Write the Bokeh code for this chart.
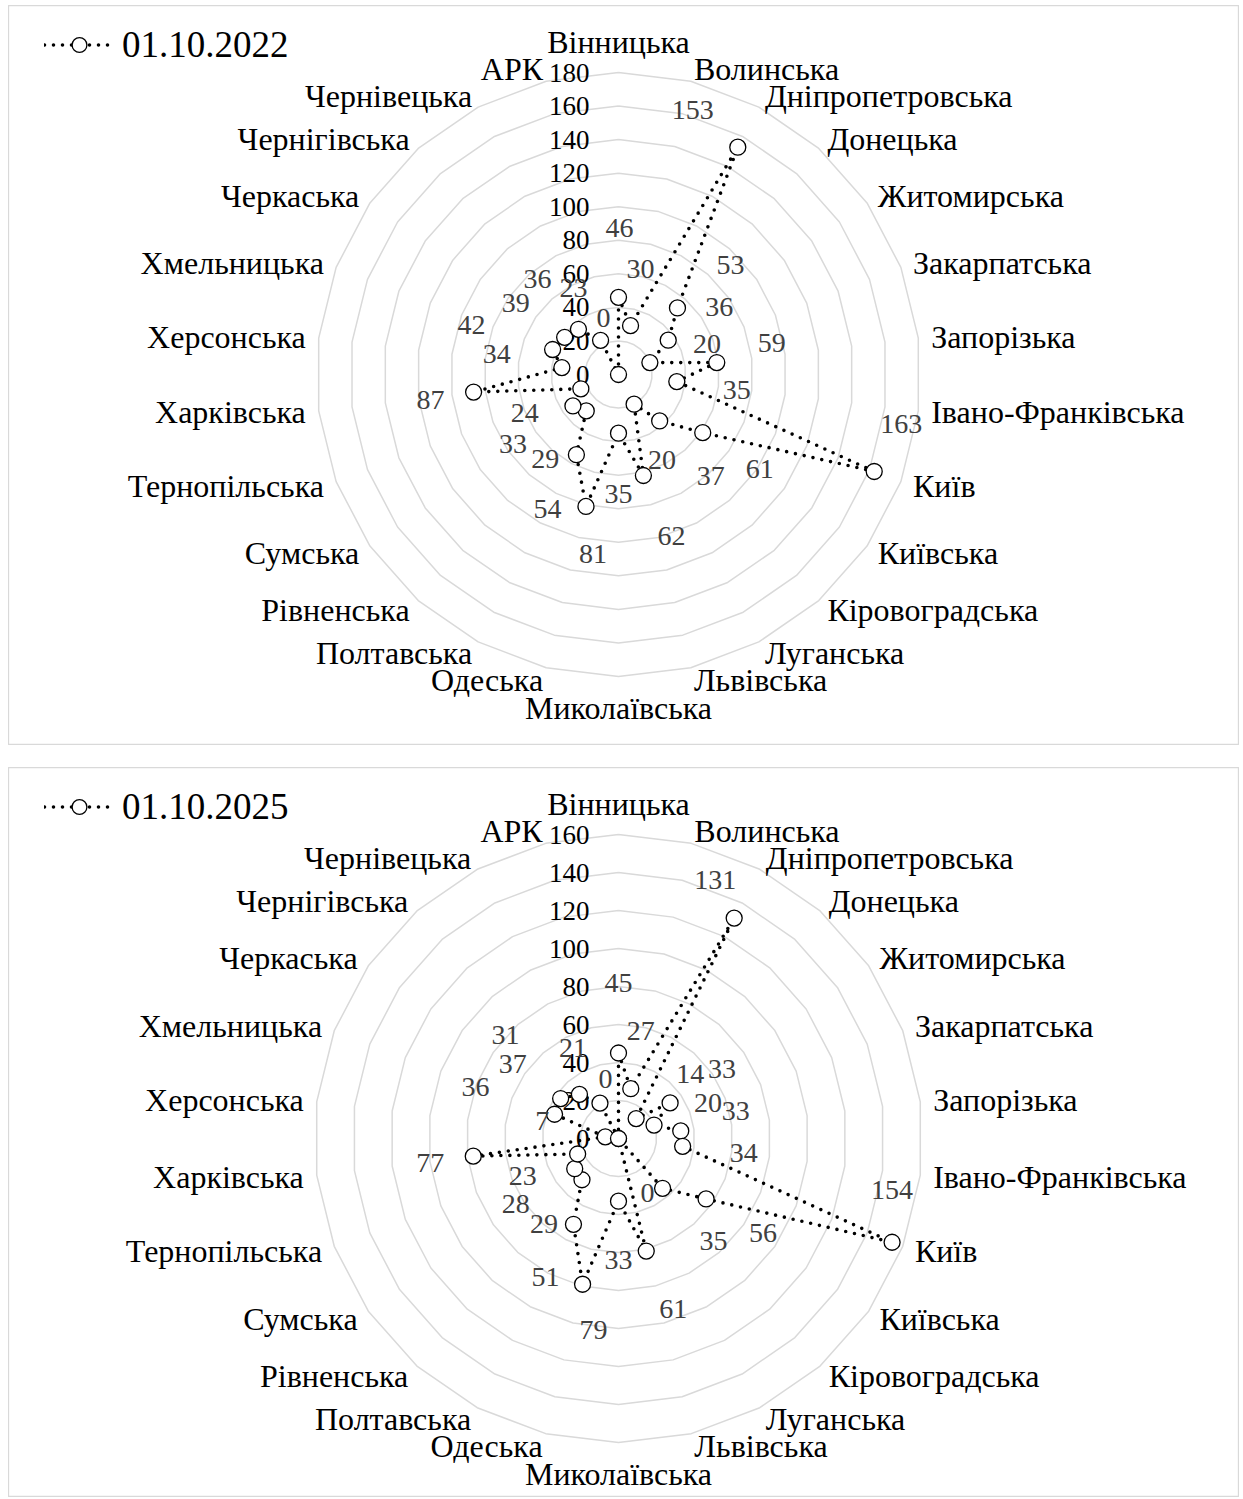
import numpy as np
from bokeh.plotting import figure
from bokeh.models import ColumnDataSource, Legend, LegendItem
from bokeh.layouts import column
from bokeh.embed import file_html
from bokeh.resources import INLINE
from bokeh.core.properties import value

# ---------------- data ----------------
categories = ["Вінницька", "Волинська", "Дніпропетровська", "Донецька", "Житомирська",
              "Закарпатська", "Запорізька", "Івано-Франківська", "Київ", "Київська",
              "Кіровоградська", "Луганська", "Львівська", "Миколаївська", "Одеська",
              "Полтавська", "Рівненська", "Сумська", "Тернопільська", "Харківська",
              "Херсонська", "Хмельницька", "Черкаська", "Чернігівська", "Чернівецька", "АРК"]

values_2022 = [46, 30, 153, 53, 36, 20, 59, 35, 163, 61, 37, 20, 62, 35, 81, 54, 29, 33, 24, 87,
               34, 42, 39, 36, 23, 0]
values_2025 = [45, 27, 131, 14, 33, 20, 33, 34, 154, 56, 35, 0, 61, 33, 79, 51, 29, 28, 23, 77,
               7, 36, 37, 31, 21, 0]

ticks_2022 = [0, 20, 40, 60, 80, 100, 120, 140, 160, 180]
ticks_2025 = [0, 20, 40, 60, 80, 100, 120, 140, 160]

series_2022 = "01.10.2022"
series_2025 = "01.10.2025"

# data-label pixel offsets (screen px, relative to each point)
lab_dx_2022 = [1, 10, -45, 53, 51, 57, 55, 60, 27, 57, 51, 28, 28, 0, 7, -29, -41, -60, -56, -43,
               -65, -81, -49, -41, -27, -15]
lab_dy_2022 = [-69, -57, -37, -43, -33, -19, -20, 8, -47, 36, 55, 56, 61, 61, 48, 54, 48, 38, 24, 8,
               -14, -25, -34, -50, -52, -57]
lab_dx_2025 = [0, 10, -19, 54, 52, 54, 55, 61, 0, 57, 51, 29, 27, 0, 11, -28, -38, -59, -55, -43,
               -63, -79, -48, -74, -27, -13]
lab_dy_2025 = [-70, -58, -38, -45, -34, -22, -20, 7, -52, 34, 53, 54, 58, 59, 46, 53, 44, 35, 22, 7,
               -16, -27, -35, -59, -55, -60]

FONT = "Liberation Serif"
GRID = "#d9d9d9"


def radar(vals, ticks, legend_label, lab_dx, lab_dy, W, H, cx, cy, R, legend_top):
    vmax = ticks[-1]
    k = R / vmax
    p = figure(width=W, height=H,
               x_range=(-cx / k, (W - cx) / k), y_range=(-(H - cy) / k, cy / k),
               output_backend="svg", toolbar_location=None, min_border=0,
               x_axis_location=None, y_axis_location=None)
    p.grid.visible = False
    p.outline_line_color = GRID
    p.outline_line_width = 1.3
    p.background_fill_color = "white"
    p.border_fill_color = "white"

    n = len(categories)
    ang = np.arange(n) * 2 * np.pi / n
    s, c = np.sin(ang), np.cos(ang)

    # gridline polygons
    xs = [list(np.append(t * s, t * s[0])) for t in ticks[1:]]
    ys = [list(np.append(t * c, t * c[0])) for t in ticks[1:]]
    p.multi_line(xs, ys, line_color=GRID, line_width=1.5)

    # value axis tick labels
    p.text(x=[0] * len(ticks), y=ticks, text=[str(t) for t in ticks],
           x_offset=-29, text_align="right", text_baseline="middle",
           text_font=value(FONT), text_font_size="27px", text_color="#000000")

    # category labels
    rl = (R + 13) / k
    groups = {}
    for i, name in enumerate(categories):
        if abs(s[i]) < 1e-6:
            al = "center"
            bl = "bottom" if c[i] > 0 else "top"
        else:
            al = "left" if s[i] > 0 else "right"
            bl = "middle"
        groups.setdefault((al, bl), []).append(i)
    for (al, bl), idx in groups.items():
        p.text(x=[rl * s[i] for i in idx], y=[rl * c[i] for i in idx],
               text=[categories[i] for i in idx], text_align=al, text_baseline=bl,
               text_font=value(FONT), text_font_size="32px", text_color="#000000")

    # series
    v = np.array(vals, dtype=float)
    px, py = v * s, v * c
    lr = p.line(list(np.append(px, px[0])), list(np.append(py, py[0])),
                line_color="black", line_width=3.6, line_dash="0 9", line_cap="round")
    sr = p.scatter(list(px), list(py), marker="circle", size=16, fill_color="white",
                   line_color="black", line_width=1.3)

    # data labels
    src = ColumnDataSource(dict(x=list(px), y=list(py), text=[str(x) for x in vals],
                                dx=lab_dx, dy=lab_dy))
    p.text(x="x", y="y", text="text", x_offset="dx", y_offset="dy", source=src,
           text_align="center", text_baseline="middle",
           text_font=value(FONT), text_font_size="28px", text_color="#404040")

    legend = Legend(items=[LegendItem(label=legend_label, renderers=[lr, sr])],
                    location=(36, H - legend_top - 41), glyph_width=70, glyph_height=37,
                    label_standoff=8, label_text_font=FONT, label_text_font_size="37px",
                    label_text_color="black", border_line_color=None,
                    background_fill_alpha=0, padding=0, margin=0, spacing=0)
    p.add_layout(legend)
    return p


W = 1231
H1, H2 = 740, 730
p1 = radar(values_2022, ticks_2022, series_2022, lab_dx_2022, lab_dy_2022,
           W, H1, 610, 369, 302, 20)
p2 = radar(values_2025, ticks_2025, series_2025, lab_dx_2025, lab_dy_2025,
           W, H2, 610, 371, 304, 20)

layout = column(p1, p2, spacing=22, margin=(5, 0, 0, 8))
open("out.html", "w").write(file_html(layout, INLINE))
